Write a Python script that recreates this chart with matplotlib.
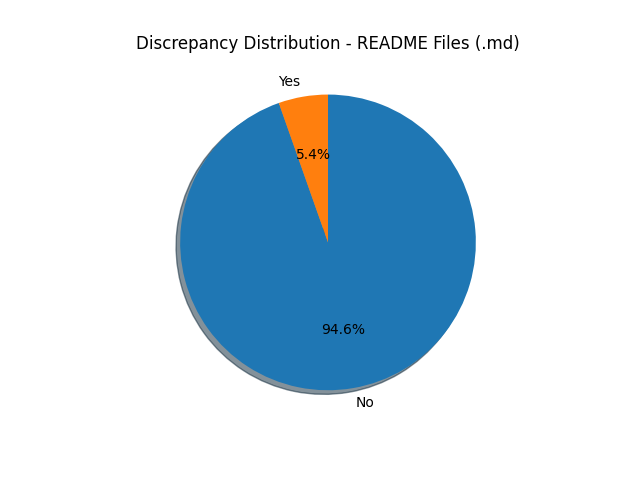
import matplotlib
matplotlib.use('Agg')
import matplotlib.pyplot as plt

labels = ['No', 'Yes']
shares = [94.6, 5.4]
colors = ['#1f77b4', '#ff7f0e']

fig, ax = plt.subplots(figsize=(6.4, 4.8), dpi=100)
ax.pie(shares, labels=labels, colors=colors, autopct='%1.1f%%',
       startangle=90, counterclock=False, shadow=True)
ax.set_title('Discrepancy Distribution - README Files (.md)')
fig.savefig('out.png')
